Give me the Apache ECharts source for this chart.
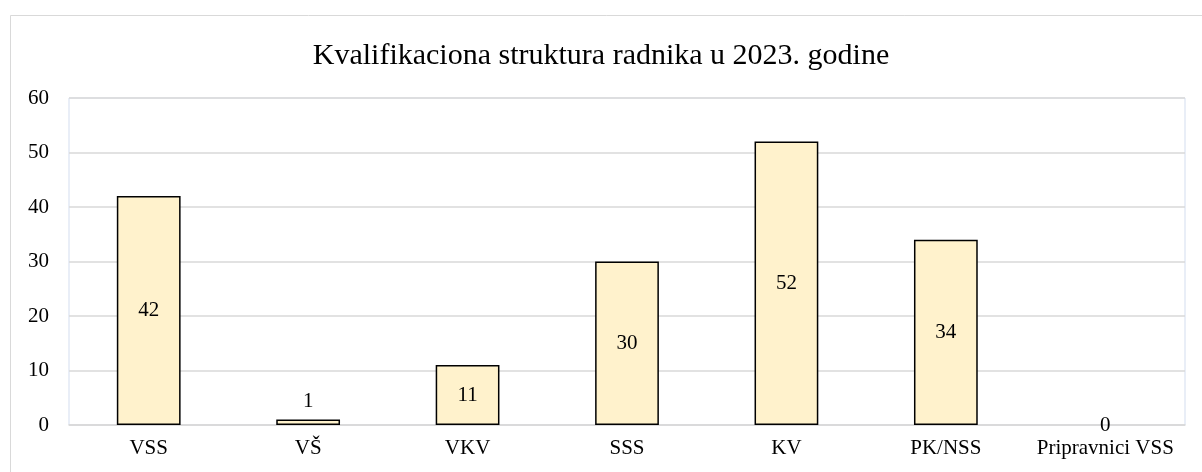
<!DOCTYPE html>
<html><head><meta charset="utf-8">
<script src="https://cdn.jsdelivr.net/npm/echarts@6/dist/echarts.min.js"></script>
<style>html,body{margin:0;padding:0;background:#fff}#c{width:1202px;height:472px}</style>
</head><body><div id="c"></div>
<script>
const title = 'Kvalifikaciona struktura radnika u 2023. godine';
const categories = ['VSS', 'VŠ', 'VKV', 'SSS', 'KV', 'PK/NSS', 'Pripravnici VSS'];
const values = [42, 1, 11, 30, 52, 34, 0];
const yTicks = [0, 10, 20, 30, 40, 50, 60];

const font = '"Liberation Serif", "Times New Roman", serif';
const chart = echarts.init(document.getElementById('c'), null, {renderer: 'canvas'});
chart.setOption({
  animation: false,
  backgroundColor: '#fff',
  graphic: [{
    type: 'rect', shape: {x: 10.5, y: 15.5, width: 1200, height: 470},
    style: {fill: 'none', stroke: '#d9d9d9', lineWidth: 1}, z: -1
  }],
  title: {
    text: title, left: 'center', top: 36,
    textStyle: {fontFamily: font, fontSize: 30, fontWeight: 'normal', color: '#000'}
  },
  grid: {left: 69, right: 17, top: 98, bottom: 47, show: true, borderColor: '#d3ddef', borderWidth: 1},
  xAxis: {
    type: 'category', data: categories,
    axisLine: {lineStyle: {color: '#d9d9d9', width: 1.5}},
    axisTick: {show: false},
    axisLabel: {fontFamily: font, fontSize: 21, color: '#000', margin: 13, interval: 0, hideOverlap: false}
  },
  yAxis: {
    type: 'value', min: yTicks[0], max: yTicks[yTicks.length - 1], interval: 10,
    axisLine: {show: false}, axisTick: {show: false},
    axisLabel: {fontFamily: font, fontSize: 21, color: '#000', margin: 20},
    splitLine: {lineStyle: {color: '#d9d9d9', width: 1.5}}
  },
  series: [{
    type: 'bar', barWidth: '40%',
    data: values.map(v => ({
      value: v,
      label: {position: (v > 0 && v < 5) ? 'top' : 'inside'},
      itemStyle: v === 0 ? {borderWidth: 0} : {}
    })),
    itemStyle: {color: '#fff2cc', borderColor: '#000', borderWidth: 1.5},
    label: {show: true, fontFamily: font, fontSize: 21, color: '#000', distance: 8}
  }]
});
</script></body></html>
